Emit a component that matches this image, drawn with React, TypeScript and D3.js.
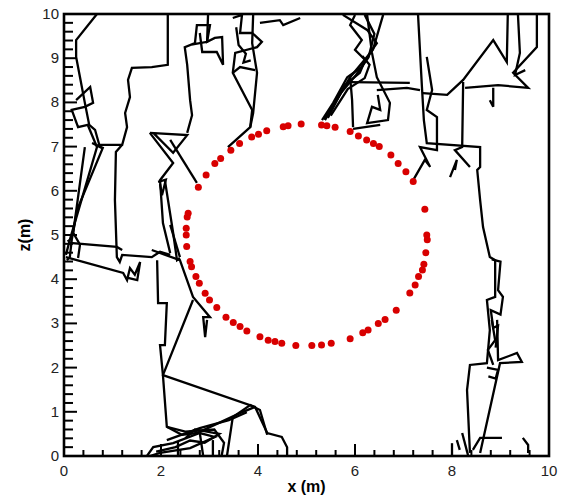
import * as d3 from "d3";

// plot frame (pixels)
const width = 566;
const height = 499;
const margin = { top: 14, right: 17, bottom: 43, left: 64 };

const xTicks = [0, 2, 4, 6, 8, 10];
const zTicks = [0, 1, 2, 3, 4, 5, 6, 7, 8, 9, 10];

// red markers, [x, z] in metres
const ringPoints: [number, number][] = [
  [2.77, 6.08], [2.93, 6.36], [3.11, 6.62], [3.23, 6.73], [3.44, 6.92], [3.62, 7.07],
  [3.87, 7.22], [4.01, 7.28], [4.18, 7.36], [4.52, 7.45], [4.62, 7.47], [4.89, 7.51],
  [5.31, 7.49], [5.42, 7.47], [5.59, 7.44], [5.9, 7.34], [6.07, 7.24], [6.24, 7.15],
  [6.38, 7.07], [6.5, 7.0], [6.74, 6.81], [6.89, 6.62], [7.05, 6.43], [7.2, 6.21],
  [7.44, 5.58], [7.48, 5.0], [7.49, 4.89], [7.46, 4.6], [7.42, 4.34], [7.39, 4.21],
  [7.31, 4.06], [7.24, 3.87], [7.13, 3.69], [6.85, 3.3], [6.62, 3.09], [6.48, 3.0],
  [6.27, 2.85], [6.16, 2.79], [5.9, 2.65], [5.51, 2.55], [5.31, 2.51], [5.11, 2.5],
  [4.78, 2.5], [4.49, 2.55], [4.35, 2.59], [4.21, 2.62], [4.04, 2.7], [3.77, 2.83],
  [3.63, 2.93], [3.49, 3.02], [3.34, 3.14], [3.15, 3.36], [3.0, 3.53], [2.91, 3.68],
  [2.79, 3.91], [2.72, 4.06], [2.63, 4.28], [2.6, 4.4], [2.53, 4.74], [2.52, 5.0],
  [2.52, 5.15], [2.54, 5.41], [2.56, 5.49],
];

// black trajectories, [x, z] in metres
const trackLeftA: [number, number][] = [
  [0.68, 10], [0.25, 9.41], [0.25, 9.03], [0.33, 8.57], [0.43, 7.99], [0.52, 7.49],
  [0.64, 7.38], [0.74, 6.99], [0.58, 7.08], [0.8, 6.97], [0.27, 5.57], [0.16, 4.89],
  [0.12, 4.5], [0.06, 4.43],
];
const trackLeftB: [number, number][] = [
  [0.25, 8.05], [0.54, 8.35], [0.6, 7.99], [0.43, 7.9], [0.16, 7.83], [0.29, 7.44],
  [0.49, 7.49], [0.68, 6.99], [0.12, 4.89], [0.04, 4.55],
];
const trackLeftC: [number, number][] = [[0.43, 6.99], [0.19, 5.05], [0.33, 4.78], [0.29, 4.48]];
const trackLeftTop: [number, number][] = [
  [0.74, 7.04], [1.2, 7.04], [1.3, 7.44], [1.26, 7.76], [1.36, 8.12], [1.32, 8.51],
  [1.4, 8.78], [1.81, 8.8], [2.14, 8.85], [2.14, 10],
];
const trackLeftDown: [number, number][] = [
  [1.2, 7.04], [1.07, 6.88], [1.05, 5.79], [1.09, 4.5], [1.15, 4.39], [1.2, 4.55],
  [1.81, 4.5], [1.98, 4.62], [2.19, 4.55],
];
const trackFlat: [number, number][] = [[0.08, 4.89], [0.12, 4.82], [1.09, 4.73], [1.2, 4.66]];
const trackSlant: [number, number][] = [
  [0.04, 4.5], [1.22, 4.14], [1.3, 3.98], [1.36, 4.25], [1.46, 4.1], [1.57, 4.39],
  [1.51, 3.98], [1.32, 4.03],
];
const trackMidTop: [number, number][] = [
  [2.54, 7.31], [2.64, 7.71], [2.6, 8.05], [2.54, 8.85], [2.49, 9.25], [2.7, 9.34],
  [2.74, 9.75], [3.01, 9.75], [2.95, 9.37], [2.6, 9.3],
];
const trackMidTopB: [number, number][] = [
  [2.97, 9.98], [2.95, 9.37], [3.11, 9.46], [3.26, 9.48], [3.28, 8.85], [3.15, 9.14],
  [2.85, 9.14], [2.8, 9.57],
];
const trackMidTopC: [number, number][] = [
  [3.48, 9.91], [3.67, 9.98], [3.63, 9.57], [3.88, 9.57], [4.08, 9.37], [3.98, 9.25],
  [3.53, 9.12], [3.48, 8.67], [3.88, 7.83], [3.84, 7.44], [3.38, 6.99],
];
const trackMidTopD: [number, number][] = [[3.9, 9.98], [3.88, 9.34], [3.98, 8.67], [3.9, 7.76], [3.84, 7.44]];
const trackMidTopE: [number, number][] = [[3.48, 8.67], [3.63, 8.8], [3.94, 8.73]];
const trackMidTopF: [number, number][] = [[4.04, 9.8], [4.45, 9.86], [4.52, 9.75], [4.87, 9.91]];
const trackMidTopG: [number, number][] = [[3.55, 9.7], [3.6, 9.3], [3.75, 9.1], [3.7, 8.9], [3.85, 8.95]];
const trackBundleA: [number, number][] = [
  [5.32, 7.6], [5.55, 7.99], [5.84, 8.57], [6.14, 8.8], [6.31, 9.12], [6.45, 9.34],
  [6.25, 9.64], [5.75, 9.98],
];
const trackBundleB: [number, number][] = [[5.38, 7.6], [5.9, 8.57], [6.37, 9.19], [6.58, 9.98]];
const trackBundleC: [number, number][] = [
  [5.44, 7.65], [5.79, 8.39], [6.1, 8.67], [6.21, 8.96], [6.0, 9.19], [6.14, 9.41],
  [5.9, 9.75], [6.0, 9.98],
];
const trackBundleD: [number, number][] = [[5.96, 7.44], [5.94, 8.05], [5.9, 8.57]];
const trackBundleE: [number, number][] = [
  [6.25, 9.98], [6.35, 9.12], [6.45, 8.57], [6.72, 7.99], [6.68, 7.6], [6.25, 7.53],
  [6.35, 7.9], [6.52, 7.83], [6.47, 8.17],
];
const trackBundleF: [number, number][] = [[5.9, 8.46], [7.13, 8.44]];
const trackBundleG: [number, number][] = [[6.45, 8.28], [7.07, 8.33], [7.34, 8.28]];
const trackBundleH: [number, number][] = [[5.96, 7.4], [6.52, 7.49]];
const trackBundleI: [number, number][] = [
  [5.36, 7.62], [5.7, 8.2], [6.02, 8.62], [6.28, 9.02], [6.4, 9.55], [6.2, 9.98],
];
const trackBundleJ: [number, number][] = [[5.5, 7.7], [5.85, 8.3], [6.2, 8.55], [6.3, 8.85], [6.15, 9.05]];
const trackRight: [number, number][] = [
  [7.3, 9.98], [7.38, 8.35], [7.42, 7.6], [7.48, 7.08], [8.58, 6.99], [8.58, 6.54],
  [8.52, 6.47], [8.58, 5.79], [8.64, 5.18], [8.78, 4.5], [8.89, 4.43], [8.89, 3.6],
  [8.72, 3.53], [8.78, 2.85], [8.72, 2.1], [8.37, 2.06], [8.31, 1.49], [8.37, 0.07],
];
const trackRightB: [number, number][] = [
  [7.48, 9.03], [7.59, 8.28], [7.48, 7.83], [7.69, 7.67], [7.69, 6.92], [7.34, 6.99],
  [7.55, 6.54], [7.44, 6.7], [7.2, 6.24],
];
const trackRightC: [number, number][] = [
  [7.4, 8.21], [7.9, 8.17], [8.23, 8.51], [8.85, 9.41], [9.13, 8.91], [9.15, 9.98],
];
const trackRightD: [number, number][] = [
  [8.27, 8.33], [8.95, 8.39], [9.57, 8.33], [9.26, 8.67], [9.75, 9.25], [9.75, 9.98],
];
const trackRightE: [number, number][] = [[9.36, 9.98], [9.4, 9.12], [9.3, 8.62], [9.51, 8.73]];
const trackRightF: [number, number][] = [[8.23, 8.46], [8.21, 6.99], [8.06, 6.92], [8.37, 6.54]];
const trackRightG: [number, number][] = [[8.85, 8.33], [8.85, 7.9], [8.78, 8.05]];
const trackRightH: [number, number][] = [[7.96, 6.31], [8.1, 6.7], [8.06, 6.47]];
const trackRightI: [number, number][] = [
  [8.82, 4.45], [9.0, 4.4], [8.95, 3.75], [9.05, 3.6], [9.0, 3.2], [8.8, 3.3], [8.85, 2.9],
  [8.95, 2.95], [8.9, 2.45],
];
const trackLowRight: [number, number][] = [
  [8.93, 3.08], [8.95, 2.17], [9.34, 2.33], [9.44, 2.13], [8.99, 2.1], [8.58, 0.07],
];
const trackLowRightB: [number, number][] = [[8.82, 3.08], [8.89, 2.62], [8.74, 2.4], [8.85, 2.06]];
const trackLowRightC: [number, number][] = [[8.43, 0.14], [8.58, 0.41], [9.03, 0.41]];
const trackLowRightD: [number, number][] = [[8.21, 0.52], [8.33, 0.02]];
const trackLowRightE: [number, number][] = [[9.46, 0.41], [9.57, 0.25], [9.57, 0.07]];
const trackLowRightF: [number, number][] = [[8.0, 0.29], [8.0, 0.02]];
const trackLowRightG: [number, number][] = [[8.1, 0.36], [8.16, 0.14]];
const trackLowRightH: [number, number][] = [[8.72, 2.0], [8.95, 1.95], [8.9, 1.75], [8.75, 1.8]];
const trackCentreA: [number, number][] = [[1.77, 7.31], [2.54, 7.26], [2.25, 6.86], [1.84, 7.31]];
const trackCentreB: [number, number][] = [[1.77, 7.31], [2.25, 6.63], [1.98, 6.24], [2.04, 5.27], [2.19, 4.59]];
const trackCentreC: [number, number][] = [[2.19, 7.15], [2.74, 6.18]];
const trackCentreD: [number, number][] = [[2.08, 6.24], [2.25, 5.05], [2.33, 4.43], [2.39, 4.48]];
const trackCentreE: [number, number][] = [
  [1.81, 4.66], [2.39, 4.43], [2.66, 3.6], [3.01, 3.14], [2.87, 3.14], [2.91, 2.69], [2.95, 3.08],
];
const trackCentreF: [number, number][] = [[2.19, 5.23], [2.39, 4.5]];
const trackCentreG: [number, number][] = [[1.94, 6.2], [2.1, 6.25], [2.02, 5.9], [1.98, 6.15]];
const trackBottomA: [number, number][] = [
  [1.92, 4.43], [1.94, 3.46], [2.12, 3.46], [2.08, 2.51], [1.98, 2.51], [2.04, 1.83],
  [3.94, 1.11], [4.19, 0.52], [4.49, 0.43], [4.6, 0.2], [4.6, 0],
];
const trackBottomB: [number, number][] = [
  [2.66, 3.53], [2.04, 1.83], [2.12, 0.66], [2.43, 0.48], [2.74, 0.52], [3.63, 0.97], [3.94, 1.11],
];
const trackBottomC: [number, number][] = [[3.36, 0], [3.48, 0.88], [3.84, 1.15], [4.04, 1.04], [4.19, 0.48]];
const trackBottomD: [number, number][] = [
  [1.71, 0], [1.84, 0.2], [2.25, 0.29], [2.8, 0.52], [3.11, 0.43], [2.6, 0.18], [1.98, 0.07], [1.77, 0],
];
const trackBottomE: [number, number][] = [[2.8, 0.52], [2.87, 0]];
const trackBottomF: [number, number][] = [[3.07, 0.36], [3.07, 0]];
const trackBottomG: [number, number][] = [[2.35, 0.32], [2.35, 0]];
const trackBottomH: [number, number][] = [[2.12, 0.36], [2.8, 0.63], [3.4, 0.81], [3.77, 0.99]];
const trackBottomI: [number, number][] = [
  [1.9, 0.1], [2.3, 0.2], [2.6, 0.35], [2.9, 0.3], [3.2, 0.5], [2.7, 0.6], [2.5, 0.4],
];
const trackBottomJ: [number, number][] = [[2.12, 0.66], [2.5, 0.55], [3.1, 0.6], [3.3, 0.3], [3.25, 0]];

const tracks = [
  trackLeftA, trackLeftB, trackLeftC, trackLeftTop, trackLeftDown, trackFlat, trackSlant,
  trackMidTop, trackMidTopB, trackMidTopC, trackMidTopD, trackMidTopE, trackMidTopF, trackMidTopG,
  trackBundleA, trackBundleB, trackBundleC, trackBundleD, trackBundleE, trackBundleF,
  trackBundleG, trackBundleH, trackBundleI, trackBundleJ, trackRight, trackRightB, trackRightC,
  trackRightD, trackRightE, trackRightF, trackRightG, trackRightH, trackRightI, trackLowRight,
  trackLowRightB, trackLowRightC, trackLowRightD, trackLowRightE, trackLowRightF, trackLowRightG,
  trackLowRightH, trackCentreA, trackCentreB, trackCentreC, trackCentreD, trackCentreE,
  trackCentreF, trackCentreG, trackBottomA, trackBottomB, trackBottomC, trackBottomD,
  trackBottomE, trackBottomF, trackBottomG, trackBottomH, trackBottomI, trackBottomJ,
];

export default function App() {
  const x = d3.scaleLinear().domain([0, 10]).range([margin.left, width - margin.right]);
  const z = d3.scaleLinear().domain([0, 10]).range([height - margin.bottom, margin.top]);

  const line = d3
    .line<[number, number]>()
    .x((d) => x(d[0]))
    .y((d) => z(d[1]));

  const xMinor = d3.range(0, 10.001, 0.4).filter((v) => Math.abs(v / 2 - Math.round(v / 2)) > 0.01);
  const zMinor = d3.range(0, 10.001, 0.2).filter((v) => Math.abs(v - Math.round(v)) > 0.01);

  const x0 = x(0);
  const x1 = x(10);
  const y0 = z(0);
  const y1 = z(10);
  const font = "'Liberation Sans', Arial, sans-serif";

  return (
    <svg
      width={width}
      height={height}
      style={{ position: "absolute", left: 0, top: 0, background: "#fff" }}
    >
      <defs>
        <clipPath id="plot">
          <rect x={x0} y={y1} width={x1 - x0} height={y0 - y1} />
        </clipPath>
      </defs>

      {/* trajectories */}
      <g clipPath="url(#plot)" fill="none" stroke="#000" strokeWidth={2.3} strokeLinejoin="miter">
        {tracks.map((t, i) => (
          <path key={i} d={line(t) ?? ""} />
        ))}
      </g>

      {/* markers */}
      <g fill="#d80000">
        {ringPoints.map((p, i) => (
          <circle key={i} cx={x(p[0])} cy={z(p[1])} r={3.5} />
        ))}
      </g>

      {/* ticks */}
      <g stroke="#000" strokeWidth={2}>
        {xTicks.map((t) => (
          <line key={"xM" + t} x1={x(t)} x2={x(t)} y1={y0} y2={y0 - 12} />
        ))}
        {xMinor.map((t, i) => (
          <line key={"xm" + i} x1={x(t)} x2={x(t)} y1={y0} y2={y0 - 6} />
        ))}
        {zTicks.map((t) => (
          <line key={"zM" + t} x1={x0} x2={x0 + 13} y1={z(t)} y2={z(t)} />
        ))}
        {zMinor.map((t, i) => (
          <line key={"zm" + i} x1={x0} x2={x0 + 9} y1={z(t)} y2={z(t)} />
        ))}
      </g>

      {/* frame */}
      <rect
        x={x0}
        y={y1}
        width={x1 - x0}
        height={y0 - y1}
        fill="none"
        stroke="#000"
        strokeWidth={2.6}
      />

      {/* tick labels */}
      <g fontFamily={font} fontSize={15} fill="#222">
        {xTicks.map((t) => (
          <text key={"xl" + t} x={x(t)} y={y0 + 20} textAnchor="middle">
            {t}
          </text>
        ))}
        {zTicks.map((t) => (
          <text key={"zl" + t} x={x0 - 5} y={z(t) + 5} textAnchor="end">
            {t}
          </text>
        ))}
      </g>

      {/* axis titles */}
      <text
        x={(x0 + x1) / 2}
        y={492}
        textAnchor="middle"
        fontFamily={font}
        fontSize={16}
        fontWeight="bold"
      >
        x (m)
      </text>
      <text
        transform={`translate(30, ${(y0 + y1) / 2}) rotate(-90)`}
        textAnchor="middle"
        fontFamily={font}
        fontSize={16}
        fontWeight="bold"
      >
        z(m)
      </text>
    </svg>
  );
}
